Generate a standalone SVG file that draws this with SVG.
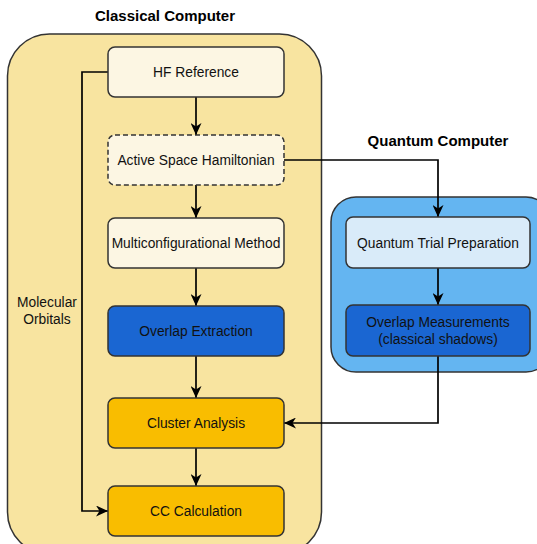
<svg xmlns="http://www.w3.org/2000/svg" width="537" height="544" viewBox="0 0 537 544">
  <defs>
    <marker id="arrow" markerWidth="12" markerHeight="11" refX="12" refY="5.5" orient="auto" markerUnits="userSpaceOnUse" viewBox="0 0 12 11">
      <path d="M0,0 L12,5.5 L0,11 L3.5,5.5 Z" fill="#000"/>
    </marker>
  </defs>
  <style>
    text { font-family: "Liberation Sans", Arial, sans-serif; fill: #111; }
    .title { font-size: 15px; font-weight: bold; text-anchor: middle; fill: #000; }
    .label { font-size: 13.8px; text-anchor: middle; dominant-baseline: central; }
    .box { stroke: #333; stroke-width: 1.5; }
    .cream { fill: #FCF6E3; }
    .blue { fill: #1A66D2; }
    .amber { fill: #F9BD00; }
    .pale { fill: #D9EBF9; }
    .edge { fill: none; stroke: #000; stroke-width: 1.7; marker-end: url(#arrow); }
  </style>

  <!-- containers -->
  <g id="classical">
    <rect x="7.5" y="34" width="314" height="520" rx="42" fill="#F8E4A0" stroke="#333" stroke-width="1.5"/>
    <text class="title" x="165" y="21">Classical Computer</text>
  </g>
  <g id="quantum">
    <rect x="331" y="197" width="220" height="175" rx="25" fill="#64B5F1" stroke="#333" stroke-width="1.5"/>
    <text class="title" x="438" y="146">Quantum Computer</text>
  </g>

  <!-- connectors -->
  <g id="connectors">
    <path class="edge" d="M196,97 V135"/>
    <path class="edge" d="M196,185 V218"/>
    <path class="edge" d="M196,268 V306"/>
    <path class="edge" d="M196,356 V398"/>
    <path class="edge" d="M196,448 V486"/>
    <path class="edge" d="M108,72 H82 V511 H108"/>
    <path class="edge" d="M284,160 H438 V217"/>
    <path class="edge" d="M438,268 V305"/>
    <path class="edge" d="M438,356 V423 H284"/>
    <text class="label" x="47" y="302">Molecular</text>
    <text class="label" x="47" y="319">Orbitals</text>
  </g>

  <!-- classical nodes -->
  <g id="hf-reference">
    <rect class="box cream" x="108" y="47" width="176" height="50" rx="7"/>
    <text class="label" x="196" y="72">HF Reference</text>
  </g>
  <g id="active-space">
    <rect class="box cream" x="108" y="135" width="176" height="50" rx="7" stroke-dasharray="5 3"/>
    <text class="label" x="196" y="160">Active Space Hamiltonian</text>
  </g>
  <g id="multiconfig">
    <rect class="box cream" x="108" y="218" width="176" height="50" rx="7"/>
    <text class="label" x="196" y="243">Multiconfigurational Method</text>
  </g>
  <g id="overlap-extraction">
    <rect class="box blue" x="108" y="306" width="176" height="50" rx="7"/>
    <text class="label" x="196" y="331">Overlap Extraction</text>
  </g>
  <g id="cluster-analysis">
    <rect class="box amber" x="108" y="398" width="176" height="50" rx="7"/>
    <text class="label" x="196" y="423">Cluster Analysis</text>
  </g>
  <g id="cc-calculation">
    <rect class="box amber" x="108" y="486" width="176" height="50" rx="7"/>
    <text class="label" x="196" y="511">CC Calculation</text>
  </g>

  <!-- quantum nodes -->
  <g id="trial-preparation">
    <rect class="box pale" x="346" y="217" width="184" height="51" rx="7"/>
    <text class="label" x="438" y="243">Quantum Trial Preparation</text>
  </g>
  <g id="overlap-measurements">
    <rect class="box blue" x="346" y="305" width="184" height="51" rx="7"/>
    <text class="label" x="438" y="322">Overlap Measurements</text>
    <text class="label" x="438" y="339">(classical shadows)</text>
  </g>
</svg>
